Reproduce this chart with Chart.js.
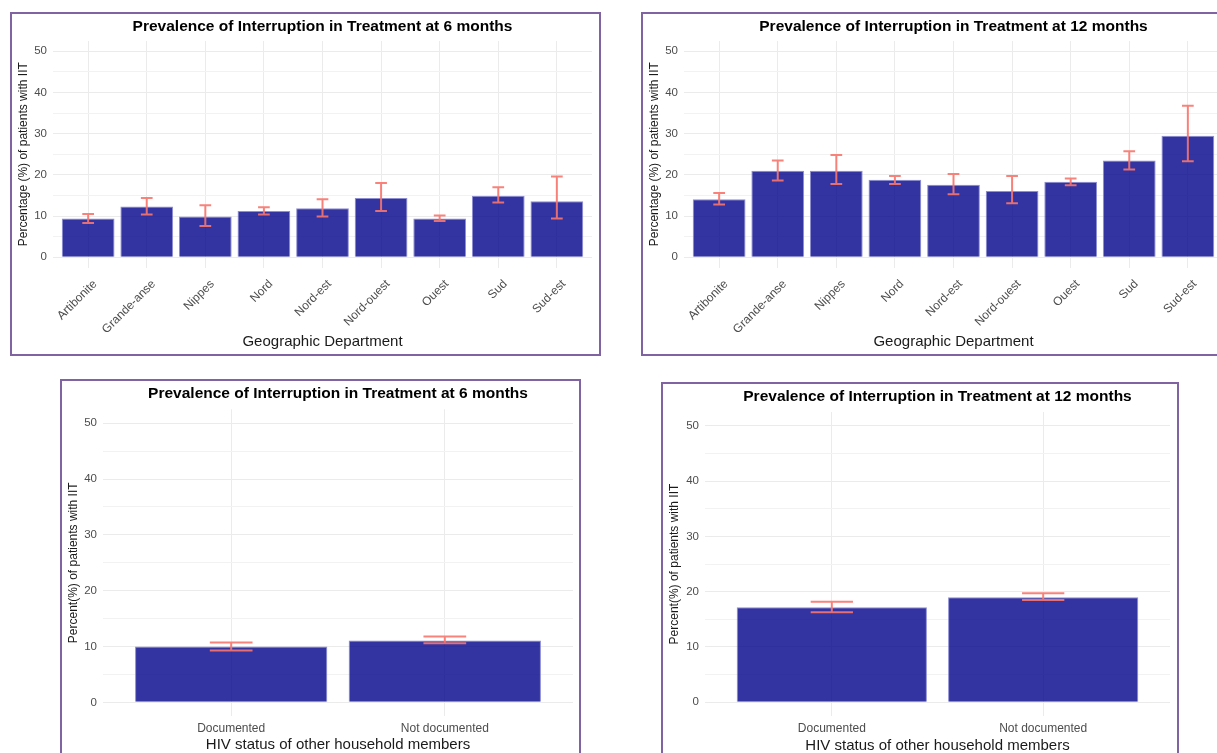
<!DOCTYPE html>
<html>
<head>
<meta charset="utf-8">
<script src="https://cdn.jsdelivr.net/npm/chart.js@4.4.1/dist/chart.umd.min.js"></script>
<style>
  html, body { margin: 0; padding: 0; background: #fff; overflow: hidden; }
  body { width: 1217px; height: 753px; position: relative; }
  .panel { position: absolute; border: 2px solid #8064A2; background: #fff; }
  .panel canvas { display: block; }
</style>
</head>
<body>
<div class="panel" style="left:10px;top:12px;width:587px;height:340px"><canvas id="c1" width="587" height="340"></canvas></div>
<div class="panel" style="left:641px;top:12px;width:587px;height:340px"><canvas id="c2" width="587" height="340"></canvas></div>
<div class="panel" style="left:60px;top:379px;width:517px;height:384px"><canvas id="c3" width="517" height="384"></canvas></div>
<div class="panel" style="left:661px;top:382px;width:514px;height:384px"><canvas id="c4" width="514" height="384"></canvas></div>
<script>
// data
const departments = ['Artibonite', 'Grande-anse', 'Nippes', 'Nord', 'Nord-est', 'Nord-ouest', 'Ouest', 'Sud', 'Sud-est'];
const iit6Dept   = [9.4, 12.3, 9.9, 11.2, 11.9, 14.4, 9.4, 14.9, 13.6];
const iit6DeptLo = [8.3, 10.4, 7.6, 10.4, 9.9, 11.2, 8.8, 13.3, 9.4];
const iit6DeptHi = [10.5, 14.4, 12.6, 12.1, 14.1, 18.0, 10.1, 17.0, 19.6];

const iit12Dept   = [14.1, 21.0, 21.0, 18.8, 17.6, 16.1, 18.3, 23.5, 29.5];
const iit12DeptLo = [12.8, 18.6, 17.8, 17.8, 15.3, 13.1, 17.5, 21.3, 23.3];
const iit12DeptHi = [15.6, 23.5, 24.8, 19.7, 20.2, 19.7, 19.1, 25.7, 36.8];

const hivStatus  = ['Documented', 'Not documented'];
const iit6Hiv    = [10.0, 11.1];
const iit6HivLo  = [9.3, 10.6];
const iit6HivHi  = [10.7, 11.8];
const iit12Hiv   = [17.2, 19.0];
const iit12HivLo = [16.3, 18.5];
const iit12HivHi = [18.2, 19.7];

const yMajorTicks = [0, 10, 20, 30, 40, 50];
const yMinorTicks = [5, 15, 25, 35, 45];

Chart.defaults.font.family = "'Liberation Sans', Arial, sans-serif";

// draws the confidence intervals on top of the bars
const errorBars = {
  id: 'errorBars',
  afterDatasetsDraw(chart) {
    const ds = chart.data.datasets[0];
    const { ctx, scales: { x, y } } = chart;
    ctx.save();
    ctx.strokeStyle = 'rgba(248,118,109,0.9)';
    ctx.lineWidth = 2;
    ds.errLo.forEach((lo, i) => {
      const cx = x.getPixelForValue(i + 1);
      const half = x.getPixelForValue(i + 1.1) - cx;
      const yl = y.getPixelForValue(lo);
      const yh = y.getPixelForValue(ds.errHi[i]);
      ctx.beginPath();
      ctx.moveTo(cx, yl); ctx.lineTo(cx, yh);
      ctx.moveTo(cx - half, yl); ctx.lineTo(cx + half, yl);
      ctx.moveTo(cx - half, yh); ctx.lineTo(cx + half, yh);
      ctx.stroke();
    });
    ctx.restore();
  }
};

function makeChart(id, cats, vals, lo, hi, o) {
  return new Chart(document.getElementById(id), {
    type: 'bar',
    data: {
      datasets: [{
        data: vals.map((v, i) => ({ x: i + 1, y: v })),
        errLo: lo,
        errHi: hi,
        backgroundColor: 'rgba(0,0,139,0.8)',
        borderColor: 'rgba(130,130,205,0.9)',
        borderWidth: 1,
        barPercentage: 0.9,
        categoryPercentage: 1
      }]
    },
    options: {
      responsive: false,
      animation: false,
      layout: { padding: { left: 1, right: o.padRight, top: 0, bottom: 0 } },
      plugins: {
        legend: { display: false },
        tooltip: { enabled: false },
        title: {
          display: true,
          text: o.title,
          fullSize: false,
          color: '#000',
          font: { size: 15.5, weight: 'bold' },
          padding: { top: o.titleTop, bottom: o.titleBottom }
        }
      },
      scales: {
        x: {
          type: 'linear',
          min: 0.4,
          max: cats.length + 0.6,
          offset: false,
          afterBuildTicks: s => { s.ticks = cats.map((c, i) => ({ value: i + 1 })); },
          afterFit: s => { s.height = o.xHeight; },
          grid: { offset: false, color: '#EBEBEB', drawTicks: false },
          border: { display: false },
          ticks: {
            autoSkip: false,
            maxRotation: o.rot,
            minRotation: o.rot,
            padding: o.tickPad,
            labelOffset: o.labelOffset,
            color: '#4D4D4D',
            font: { size: 12 },
            callback: (v, i) => cats[i]
          },
          title: {
            display: true,
            text: o.xTitle,
            color: '#1A1A1A',
            font: { size: 15 },
            padding: { top: 0, bottom: o.xTitlePad }
          }
        },
        y: {
          min: -2.5,
          max: 52.5,
          afterBuildTicks: s => {
            s.ticks = yMajorTicks.concat(yMinorTicks).sort((a, b) => a - b).map(v => ({ value: v }));
          },
          afterFit: s => { s.width = o.yWidth; },
          grid: {
            drawTicks: false,
            color: c => yMajorTicks.includes(c.tick.value) ? '#EBEBEB' : '#F2F2F2'
          },
          border: { display: false },
          ticks: {
            padding: 6,
            color: '#4D4D4D',
            font: { size: 11.5 },
            callback: v => yMajorTicks.includes(v) ? String(v) : ''
          },
          title: {
            display: true,
            text: o.yTitle,
            color: '#1A1A1A',
            font: { size: 12 },
            padding: { top: 3, bottom: 0 }
          }
        }
      }
    },
    plugins: [errorBars]
  });
}

const deptOpts = {
  xTitle: 'Geographic Department',
  yTitle: 'Percentage (%) of patients with IIT',
  padRight: 7, yWidth: 40, xHeight: 86.5,
  titleTop: 3.4, titleBottom: 5,
  rot: 45, tickPad: 9.5, labelOffset: 7, xTitlePad: 3.3
};

makeChart('c1', departments, iit6Dept, iit6DeptLo, iit6DeptHi,
  Object.assign({}, deptOpts, { title: 'Prevalence of Interruption in Treatment at 6 months' }));
makeChart('c2', departments, iit12Dept, iit12DeptLo, iit12DeptHi,
  Object.assign({}, deptOpts, { title: 'Prevalence of Interruption in Treatment at 12 months' }));

makeChart('c3', hivStatus, iit6Hiv, iit6HivLo, iit6HivHi, {
  title: 'Prevalence of Interruption in Treatment at 6 months',
  xTitle: 'HIV status of other household members',
  yTitle: 'Percent(%) of patients with IIT',
  padRight: 6, yWidth: 40, xHeight: 48.7,
  titleTop: 3.7, titleBottom: 6,
  rot: 0, tickPad: 5.5, labelOffset: 0, xTitlePad: 11
});
makeChart('c4', hivStatus, iit12Hiv, iit12HivLo, iit12HivHi, {
  title: 'Prevalence of Interruption in Treatment at 12 months',
  xTitle: 'HIV status of other household members',
  yTitle: 'Percent(%) of patients with IIT',
  padRight: 7, yWidth: 41, xHeight: 51.9,
  titleTop: 3.4, titleBottom: 6,
  rot: 0, tickPad: 5.7, labelOffset: 0, xTitlePad: 13.3
});
</script>
</body>
</html>
